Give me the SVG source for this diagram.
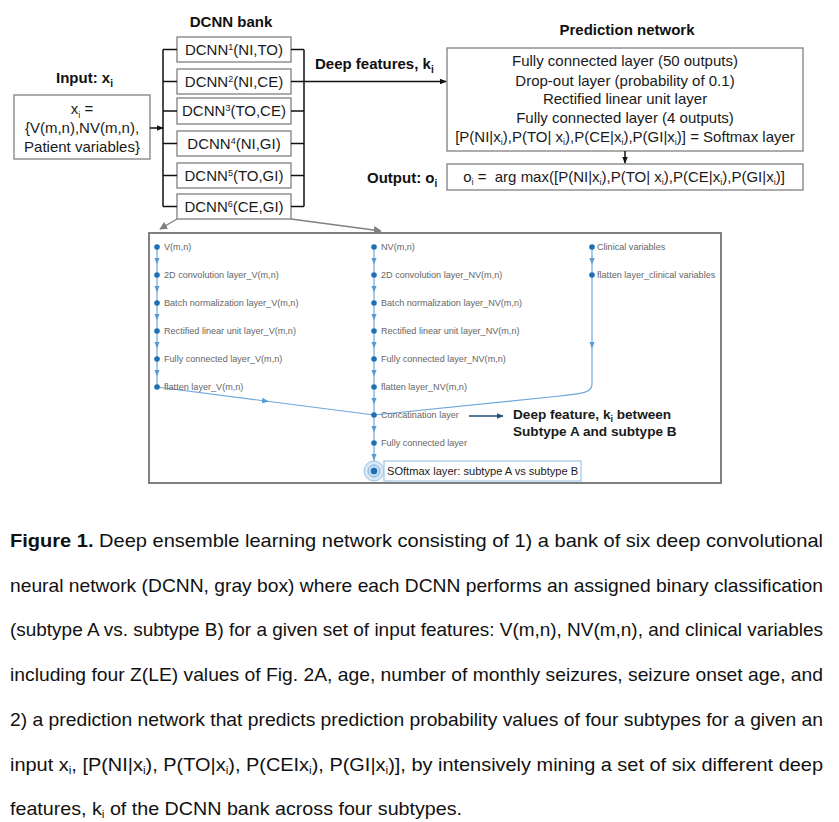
<svg xmlns="http://www.w3.org/2000/svg" width="839" height="822" viewBox="0 0 839 822">
<style>
text{font-family:"Liberation Sans",Arial,sans-serif;fill:#1a1a1a}
.t{font-size:15px}
.b{font-size:15px;font-weight:bold;fill:#111}
.box{fill:#fff;stroke:#808080;stroke-width:1.3}
.blk{stroke:#111;stroke-width:1.5;fill:none}
.gr{stroke:#808080;stroke-width:1.3;fill:none}
.nl{stroke:#6fa8dc;stroke-width:1.2;fill:none}
.dot{fill:#1f6fb5}
.s{font-size:9.1px;fill:#666}
.cap{font-family:"Liberation Sans Narrow","Liberation Sans",Arial,sans-serif;font-size:18.5px;fill:#111}
</style>
<defs>
<marker id="ab" viewBox="0 0 10 10" refX="9" refY="5" markerWidth="7" markerHeight="7" markerUnits="userSpaceOnUse" orient="auto"><path d="M0,1 L10,5 L0,9 z" fill="#111"/></marker>
<marker id="ag" viewBox="0 0 10 10" refX="9" refY="5" markerWidth="8" markerHeight="8" markerUnits="userSpaceOnUse" orient="auto"><path d="M0,0 L10,5 L0,10 z" fill="#808080"/></marker>
<marker id="an" viewBox="0 0 10 10" refX="5" refY="5" markerWidth="7" markerHeight="7" markerUnits="userSpaceOnUse" orient="auto"><path d="M0,1 L10,5 L0,9 z" fill="#5b9bd5"/></marker>
<marker id="ad" viewBox="0 0 10 10" refX="9" refY="5" markerWidth="7" markerHeight="7" markerUnits="userSpaceOnUse" orient="auto"><path d="M0,1 L10,5 L0,9 z" fill="#1f4e79"/></marker>
</defs>

<!-- titles -->
<text class="b" x="231" y="27" text-anchor="middle">DCNN bank</text>
<text class="b" x="627" y="35" text-anchor="middle">Prediction network</text>
<text class="b" x="56" y="83">Input:  x<tspan font-size="10" dy="4">i</tspan></text>
<text class="b" x="315" y="69">Deep features, k<tspan font-size="10" dy="4">i</tspan></text>
<text class="b" x="367" y="183">Output: o<tspan font-size="10" dy="4">i</tspan></text>

<g id="input">
<rect class="box" x="14" y="95" width="136" height="64"/>
<text class="t" x="82" y="114" text-anchor="middle">x<tspan font-size="9" dy="4">i</tspan><tspan dy="-4"> =</tspan></text>
<text class="t" x="82" y="133" text-anchor="middle">{V(m,n),NV(m,n),</text>
<text class="t" x="82" y="152" text-anchor="middle">Patient variables}</text>
</g>

<g id="dcnn1"><rect class="box" x="177" y="37" width="114" height="25"/><text class="t" x="234" y="55" text-anchor="middle">DCNN<tspan font-size="9" dy="-5">1</tspan><tspan dy="5">(NI,TO)</tspan></text></g>
<g id="dcnn2"><rect class="box" x="177" y="69" width="114" height="25"/><text class="t" x="234" y="87" text-anchor="middle">DCNN<tspan font-size="9" dy="-5">2</tspan><tspan dy="5">(NI,CE)</tspan></text></g>
<g id="dcnn3"><rect class="box" x="177" y="98" width="114" height="26"/><text class="t" x="234" y="116" text-anchor="middle">DCNN<tspan font-size="9" dy="-5">3</tspan><tspan dy="5">(TO,CE)</tspan></text></g>
<g id="dcnn4"><rect class="box" x="177" y="131" width="114" height="25"/><text class="t" x="234" y="149" text-anchor="middle">DCNN<tspan font-size="9" dy="-5">4</tspan><tspan dy="5">(NI,GI)</tspan></text></g>
<g id="dcnn5"><rect class="box" x="177" y="163" width="114" height="25"/><text class="t" x="234" y="181" text-anchor="middle">DCNN<tspan font-size="9" dy="-5">5</tspan><tspan dy="5">(TO,GI)</tspan></text></g>
<g id="dcnn6"><rect class="box" x="177" y="194" width="114" height="25" stroke-width="1.8"/><text class="t" x="234" y="212" text-anchor="middle">DCNN<tspan font-size="9" dy="-5">6</tspan><tspan dy="5">(CE,GI)</tspan></text></g>

<g id="prediction">
<rect class="box" x="447" y="48" width="356" height="103"/>
<text class="t" x="625" y="66" text-anchor="middle">Fully connected layer (50 outputs)</text>
<text class="t" x="625" y="86" text-anchor="middle">Drop-out layer (probability of 0.1)</text>
<text class="t" x="625" y="104" text-anchor="middle">Rectified linear unit layer</text>
<text class="t" x="625" y="123" text-anchor="middle">Fully connected layer (4 outputs)</text>
<text class="t" x="625" y="142" text-anchor="middle">[P(NI|x<tspan font-size="9" dy="3">i</tspan><tspan dy="-3">),P(TO| x</tspan><tspan font-size="9" dy="3">i</tspan><tspan dy="-3">),P(CE|x</tspan><tspan font-size="9" dy="3">i</tspan><tspan dy="-3">),P(GI|x</tspan><tspan font-size="9" dy="3">i</tspan><tspan dy="-3">)] = Softmax layer</tspan></text>
</g>

<g id="output">
<rect class="box" x="447" y="164" width="356" height="26"/>
<text class="t" x="624" y="182" text-anchor="middle">o<tspan font-size="9" dy="3">i</tspan><tspan dy="-3"> =&#160; arg max([P(NI|x</tspan><tspan font-size="9" dy="3">i</tspan><tspan dy="-3">),P(TO| x</tspan><tspan font-size="9" dy="3">i</tspan><tspan dy="-3">),P(CE|x</tspan><tspan font-size="9" dy="3">i</tspan><tspan dy="-3">),P(GI|x</tspan><tspan font-size="9" dy="3">i</tspan><tspan dy="-3">)]</tspan></text>
</g>

<g id="connectors">
<line class="blk" x1="150" y1="128" x2="163" y2="128" marker-end="url(#ab)"/>
<path class="blk" d="M163,49.5 V206.5 M163,49.5 H177 M163,81.5 H177 M163,111 H177 M163,143.5 H177 M163,175.5 H177 M163,206.5 H177"/>
<path class="blk" d="M304,49.5 V206.5 M291,49.5 H304 M291,111 H304 M291,143.5 H304 M291,175.5 H304 M291,206.5 H304"/>
<line class="blk" x1="291" y1="81.5" x2="446" y2="81.5" marker-end="url(#ab)"/>
<line class="blk" x1="625" y1="151" x2="625" y2="163" marker-end="url(#ab)"/>
<line class="gr" x1="177" y1="219" x2="160" y2="229" marker-end="url(#ag)"/>
<line class="gr" x1="291" y1="219" x2="381" y2="231" marker-end="url(#ag)"/>
</g>

<g id="dcnn-detail">
<rect x="149" y="233" width="572" height="250" fill="#fff" stroke="#808080" stroke-width="2"/>
<g id="inner-edges">
<polyline class="nl" points="157,247 157,261 157,275" marker-mid="url(#an)"/>
<polyline class="nl" points="157,275 157,289 157,303" marker-mid="url(#an)"/>
<polyline class="nl" points="157,303 157,317 157,331" marker-mid="url(#an)"/>
<polyline class="nl" points="157,331 157,345 157,359" marker-mid="url(#an)"/>
<polyline class="nl" points="157,359 157,373 157,387" marker-mid="url(#an)"/>
<polyline class="nl" points="157,387 265.5,401 374,415" marker-mid="url(#an)"/>
<polyline class="nl" points="374,247 374,261 374,275" marker-mid="url(#an)"/>
<polyline class="nl" points="374,275 374,289 374,303" marker-mid="url(#an)"/>
<polyline class="nl" points="374,303 374,317 374,331" marker-mid="url(#an)"/>
<polyline class="nl" points="374,331 374,345 374,359" marker-mid="url(#an)"/>
<polyline class="nl" points="374,359 374,373 374,387" marker-mid="url(#an)"/>
<polyline class="nl" points="374,387 374,401 374,415" marker-mid="url(#an)"/>
<polyline class="nl" points="374,415 374,429 374,443" marker-mid="url(#an)"/>
<polyline class="nl" points="374,443 374,457 374,471" marker-mid="url(#an)"/>
<polyline class="nl" points="592,247 592,261 592,275" marker-mid="url(#an)"/>
<polyline class="nl" points="592,275 592,345 592,384" marker-mid="url(#an)"/>
<path class="nl" d="M592,384 C592,392 586,393 560,396 L374,415"/>
<line x1="469" y1="416" x2="503" y2="416" stroke="#1f4e79" stroke-width="1.3" marker-end="url(#ad)"/>
</g>
<g id="inner-nodes">
<circle class="dot" cx="157" cy="247" r="2.8"/><text class="s" x="164" y="250">V(m,n)</text>
<circle class="dot" cx="157" cy="275" r="2.8"/><text class="s" x="164" y="278">2D convolution layer_V(m,n)</text>
<circle class="dot" cx="157" cy="303" r="2.8"/><text class="s" x="164" y="306">Batch normalization layer_V(m,n)</text>
<circle class="dot" cx="157" cy="331" r="2.8"/><text class="s" x="164" y="334">Rectified linear unit layer_V(m,n)</text>
<circle class="dot" cx="157" cy="359" r="2.8"/><text class="s" x="164" y="362">Fully connected layer_V(m,n)</text>
<circle class="dot" cx="157" cy="387" r="2.8"/><text class="s" x="164" y="390">flatten layer_V(m,n)</text>
<circle class="dot" cx="374" cy="247" r="2.8"/><text class="s" x="381" y="250">NV(m,n)</text>
<circle class="dot" cx="374" cy="275" r="2.8"/><text class="s" x="381" y="278">2D convolution layer_NV(m,n)</text>
<circle class="dot" cx="374" cy="303" r="2.8"/><text class="s" x="381" y="306">Batch normalization layer_NV(m,n)</text>
<circle class="dot" cx="374" cy="331" r="2.8"/><text class="s" x="381" y="334">Rectified linear unit layer_NV(m,n)</text>
<circle class="dot" cx="374" cy="359" r="2.8"/><text class="s" x="381" y="362">Fully connected layer_NV(m,n)</text>
<circle class="dot" cx="374" cy="387" r="2.8"/><text class="s" x="381" y="390">flatten layer_NV(m,n)</text>
<circle class="dot" cx="374" cy="415" r="2.8"/><text class="s" x="381" y="418">Concatination layer</text>
<circle class="dot" cx="374" cy="443" r="2.8"/><text class="s" x="381" y="446">Fully connected layer</text>
<circle cx="374" cy="471" r="10" fill="#d9e8f6" stroke="#9fc5e8" stroke-width="1"/>
<circle cx="374" cy="471" r="6" fill="#c3dcf2" stroke="#8ab6e0" stroke-width="1"/>
<circle class="dot" cx="374" cy="471" r="3.2"/>
<rect x="384" y="461" width="197" height="20" fill="#fff" stroke="#9fc5e8" stroke-width="1.2"/>
<text x="387" y="475" font-size="11.1" fill="#333">SOftmax layer: subtype A vs subtype B</text>
<circle class="dot" cx="592" cy="247" r="2.8"/><text class="s" x="597" y="250">Clinical variables</text>
<circle class="dot" cx="592" cy="275" r="2.8"/><text class="s" x="597" y="278">flatten layer_clinical variables</text>
</g>
<text x="513" y="419" font-size="13.6" font-weight="bold" fill="#111">Deep feature, k<tspan font-size="9" dy="3">i</tspan><tspan dy="-3"> between</tspan></text>
<text x="513" y="436" font-size="13.6" font-weight="bold" fill="#111">Subtype A and subtype B</text>
</g>

<g id="caption">
<text class="cap" x="10" y="547" textLength="813" lengthAdjust="spacingAndGlyphs"><tspan font-weight="bold">Figure 1.</tspan> Deep ensemble learning network consisting of 1) a bank of six deep convolutional</text>
<text class="cap" x="10" y="592" textLength="813" lengthAdjust="spacingAndGlyphs">neural network (DCNN, gray box) where each DCNN performs an assigned binary classification</text>
<text class="cap" x="10" y="636" textLength="813" lengthAdjust="spacingAndGlyphs">(subtype A vs. subtype B) for a given set of input features: V(m,n), NV(m,n), and clinical variables</text>
<text class="cap" x="10" y="681" textLength="813" lengthAdjust="spacingAndGlyphs">including four Z(LE) values of Fig. 2A, age, number of monthly seizures, seizure onset age, and</text>
<text class="cap" x="10" y="726" textLength="813" lengthAdjust="spacingAndGlyphs">2) a prediction network that predicts prediction probability values of four subtypes for a given an</text>
<text class="cap" x="10" y="771" textLength="813" lengthAdjust="spacingAndGlyphs">input x<tspan font-size="11" dy="3">i</tspan><tspan dy="-3">, [P(NI|x</tspan><tspan font-size="11" dy="3">i</tspan><tspan dy="-3">), P(TO|x</tspan><tspan font-size="11" dy="3">i</tspan><tspan dy="-3">), P(CEIx</tspan><tspan font-size="11" dy="3">i</tspan><tspan dy="-3">), P(GI|x</tspan><tspan font-size="11" dy="3">i</tspan><tspan dy="-3">)], by intensively mining a set of six different deep</tspan></text>
<text class="cap" x="10" y="815" textLength="452" lengthAdjust="spacingAndGlyphs">features, k<tspan font-size="11" dy="3">i</tspan><tspan dy="-3"> of the DCNN bank across four subtypes.</tspan></text>
</g>
</svg>
